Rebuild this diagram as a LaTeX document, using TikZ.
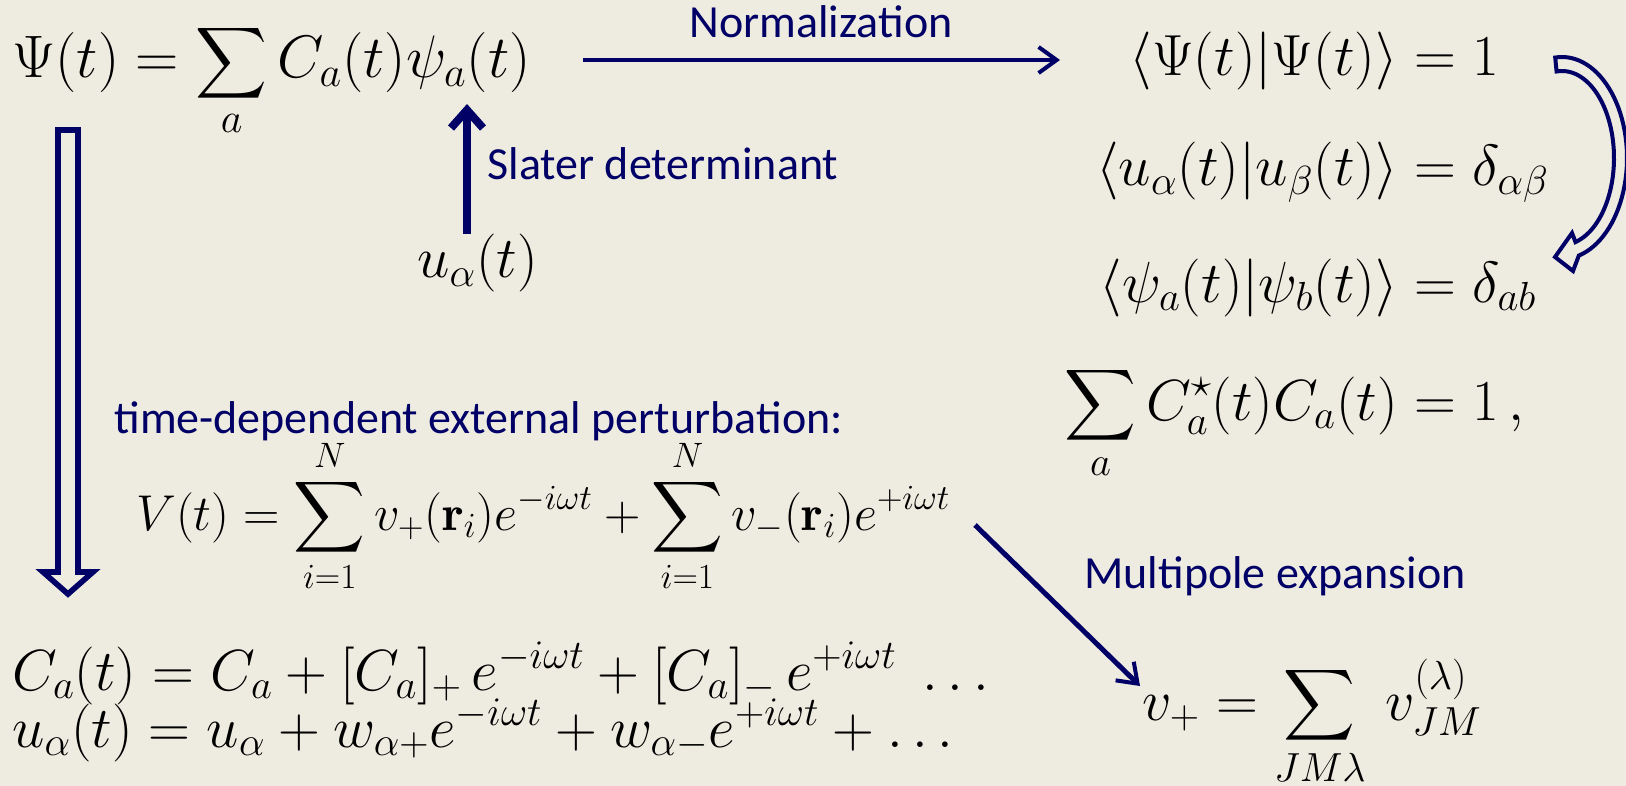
\RequirePackage{fix-cm}
\documentclass[tikz,border=0pt]{standalone}
\usepackage{amsmath}
\usepackage{fontspec}
\newfontfamily\labelfont{Carlito}
\usetikzlibrary{arrows.meta}
\definecolor{navy}{RGB}{0,0,102}
\definecolor{bg}{RGB}{238,235,224}
\tikzset{
  eqn/.style={inner sep=0pt, font=\fontsize{29}{34}\selectfont},
  eqnsmall/.style={inner sep=0pt, font=\fontsize{25.2}{30}\selectfont},
  lbl/.style={inner sep=0pt, text=navy, font=\labelfont\fontsize{23}{27}\selectfont},
  linearrow/.style={draw=navy, line width=2pt, -{Straight Barb[length=9pt,width=13pt,line width=2pt]}},
  thickarrow/.style={draw=navy, line width=4pt, -{Straight Barb[length=9pt,width=16pt,line width=4pt]}},
  hollow/.style={draw=navy, fill=bg, line join=miter},
}
\begin{document}
\begin{tikzpicture}[x=0.5pt, y=-0.5pt]
\fill[bg] (0,0) rectangle (1626,786);
\useasboundingbox (0,0) rectangle (1626,786);

% top-left equation
\node[eqn, font=\fontsize{30}{35}\selectfont, anchor=base west] (psi) at (12,78) {$\displaystyle \Psi(t) = \sum_a C_a(t)\psi_a(t)$};

% normalization arrow
\coordinate (n1) at (583,60);
\coordinate (n2) at (1060,60);
\draw[linearrow] (n1) -- (n2);
\node[lbl, anchor=base] (normlbl) at (821,38) {Normalization};

% right column, aligned at =
\node[eqn, anchor=base east] (r1l) at (1398,76) {$\displaystyle \langle \Psi(t)|\Psi(t)\rangle$};
\node[eqn, anchor=base west] (r1r) at (1398,76) {$\displaystyle {}= 1$};
\node[eqn, anchor=base east] (r2l) at (1398,186) {$\displaystyle \langle u_\alpha(t)|u_\beta(t)\rangle$};
\node[eqn, anchor=base west] (r2r) at (1398,186) {$\displaystyle {}= \delta_{\alpha\beta}$};
\node[eqn, anchor=base east] (r3l) at (1398,302) {$\displaystyle \langle \psi_a(t)|\psi_b(t)\rangle$};
\node[eqn, anchor=base west] (r3r) at (1398,302) {$\displaystyle {}= \delta_{ab}$};
\node[eqn, anchor=base east] (r4l) at (1398,420) {$\displaystyle \sum_a C^\star_a(t)C_a(t)$};
\node[eqn, anchor=base west] (r4r) at (1398,420) {$\displaystyle {}= 1\,,$};

% curved hollow arrow
\draw[hollow, line width=2pt]
  plot[domain=96:-75, samples=50] ({1562+65*cos(\x)},{158-101*sin(\x)})
  -- (1573,271) -- (1555,257) -- (1572,233)
  -- plot[domain=-75:96, samples=50] ({1562+52*cos(\x)},{158-87*sin(\x)}) -- cycle;

% Slater determinant
\node[eqn, anchor=base west] (ua) at (417,278) {$u_\alpha(t)$};
\coordinate (s1) at (467,234);
\coordinate (s2) at (467,104);
\draw[thickarrow] (s1) -- (s2);
\node[lbl, anchor=base west] (slater) at (487,180) {Slater determinant};

% left hollow down arrow
\draw[hollow, line width=2.8pt]
  (58,130) -- (78,130) -- (78,572) -- (93,572) -- (68,594) -- (43,572) -- (58,572) -- cycle;

% perturbation
\node[lbl, anchor=base west] (pert) at (114,433) {time-dependent external perturbation:};
\node[eqnsmall, anchor=base west] (V) at (136,530) {$\displaystyle V(t) = \sum_{i=1}^{N} v_+(\mathbf{r}_i)e^{-i\omega t} + \sum_{i=1}^{N} v_-(\mathbf{r}_i)e^{+i\omega t}$};

% multipole
\coordinate (m1) at (975,525);
\coordinate (m2) at (1140,686);
\draw[linearrow, line width=2.5pt] (m1) -- (m2);
\node[lbl, anchor=base west] (multi) at (1084,588) {Multipole expansion};
\node[eqn, anchor=base west] (vplus) at (1142,720) {$\displaystyle v_+ = \sum_{JM\lambda}\, v_{JM}^{(\lambda)}$};

% bottom-left equations
\node[eqn, anchor=base west] (Ca) at (12,690) {$C_a(t) = C_a + [C_a]_+\, e^{-i\omega t} + [C_a]_-\, e^{+i\omega t}\;\ldots$};
\node[eqn, anchor=base west] (uat) at (12,747) {$u_\alpha(t) = u_\alpha + w_{\alpha+}e^{-i\omega t} + w_{\alpha-}e^{+i\omega t} + \ldots$};
\end{tikzpicture}
\end{document}
